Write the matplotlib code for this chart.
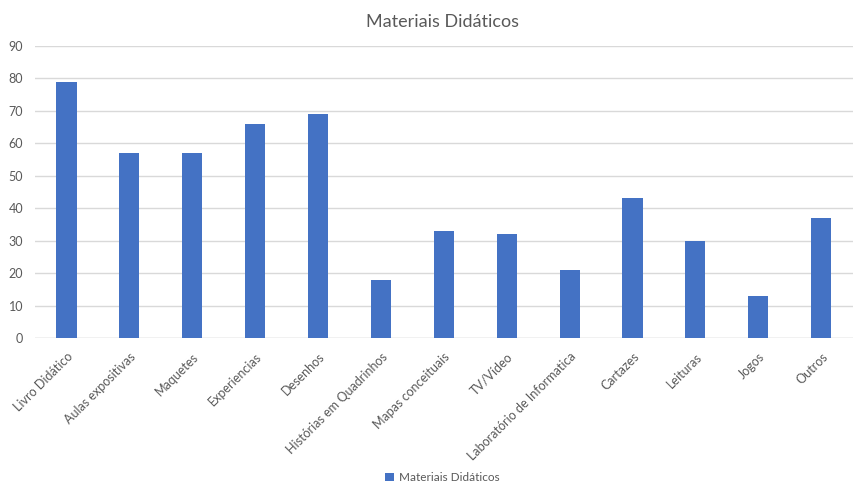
import matplotlib.pyplot as plt
import numpy as np

# --- dados ---
categorias = ["Livro Didático", "Aulas expositivas", "Maquetes", "Experiencias", "Desenhos",
              "Histórias em Quadrinhos", "Mapas conceituais", "TV/Vídeo",
              "Laboratório de Informatica", "Cartazes", "Leituras", "Jogos", "Outros"]
valores = [79, 57, 57, 66, 69, 18, 33, 32, 21, 43, 30, 13, 37]
serie = "Materiais Didáticos"

plt.rcParams['font.family'] = ['Lato', 'DejaVu Sans']
cinza = "#595959"

fig = plt.figure(figsize=(8.63, 4.83), dpi=100)
ax = fig.add_axes([0.0406, 0.300, 0.9474, 0.605])

x = np.arange(len(categorias))
ax.bar(x, valores, width=0.32, color="#4472C4", label=serie, zorder=3)

ax.set_xlim(-0.5, len(categorias) - 0.5)
ax.set_ylim(0, 90)
ax.set_yticks(range(0, 91, 10))
ax.grid(axis='y', color="#d9d9d9", linewidth=1, zorder=0)
for s in ax.spines.values():
    s.set_visible(False)
ax.axhline(0, color="#d9d9d9", linewidth=1, zorder=2)

ax.set_xticks(x)
ax.set_xticklabels(categorias, rotation=45, ha='right', rotation_mode='anchor')
ax.tick_params(axis='x', length=0, labelsize=9, colors=cinza, pad=9)
ax.tick_params(axis='y', length=0, labelsize=9, colors=cinza, pad=8.5)

fig.suptitle(serie, x=0.513, y=0.972, fontsize=13, color=cinza)
fig.legend(loc='lower center', bbox_to_anchor=(0.513, -0.022), frameon=False, fontsize=8.5,
           labelcolor=cinza, handlelength=0.7, handleheight=0.7, handletextpad=0.5)

fig.savefig("out.png", dpi=100)
